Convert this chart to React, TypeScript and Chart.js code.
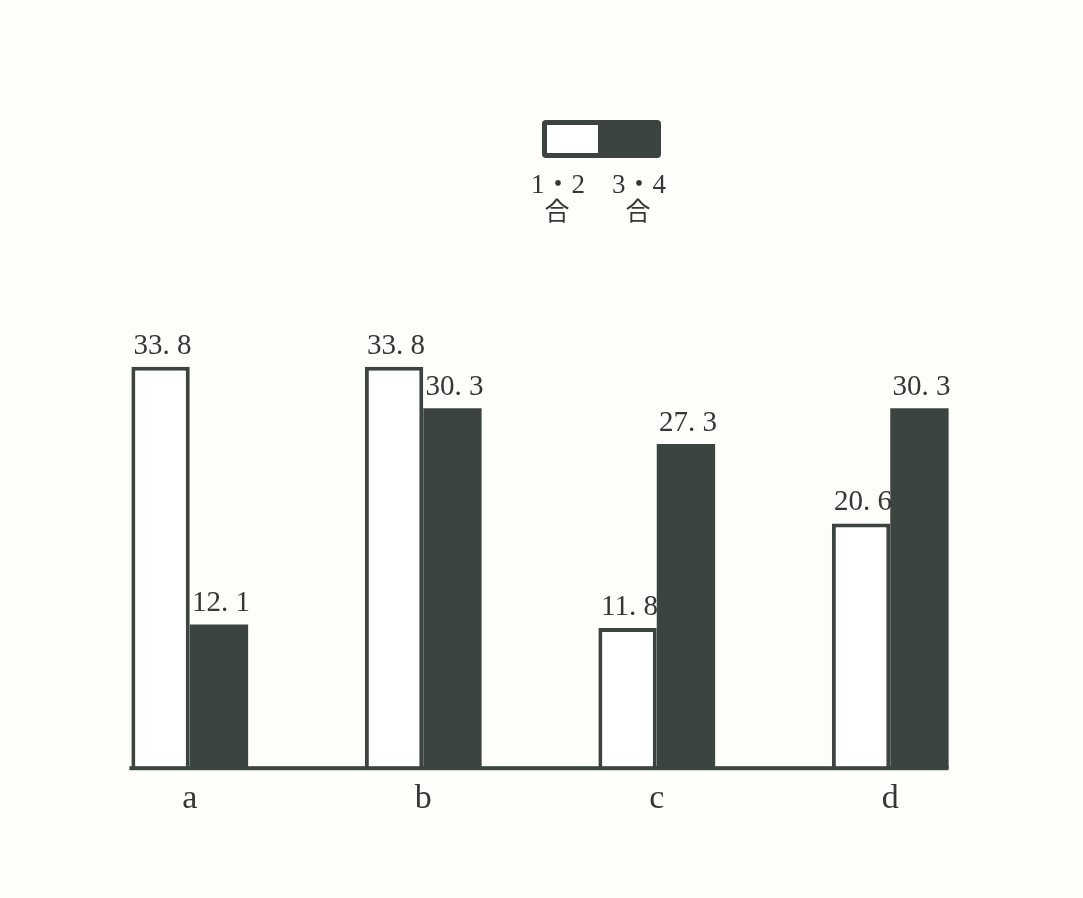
import React, { useEffect, useRef } from "react";
import { Chart, registerables } from "chart.js";

Chart.register(...registerables);

const categories = ["a", "b", "c", "d"];
const series12 = [33.8, 33.8, 11.8, 20.6];
const series34 = [12.1, 30.3, 27.3, 30.3];
const seriesNames = [["1・2", "合"], ["3・4", "合"]];

const DARK = "#3c4441";
const BG = "#fdfdfa";
const FONT = "'Liberation Serif', 'DejaVu Serif', 'Noto Sans CJK JP', serif";

const fmt = (v: number) => {
  const s = v.toFixed(1).split(".");
  return `${s[0]}. ${s[1]}`;
};

const extrasPlugin = {
  id: "extras",
  beforeDraw(chart: any) {
    const ctx = chart.ctx;
    ctx.save();
    ctx.fillStyle = BG;
    ctx.fillRect(0, 0, chart.width, chart.height);
    ctx.restore();
  },
  afterDatasetsDraw(chart: any) {
    const ctx = chart.ctx;
    const y0 = chart.scales.y.getPixelForValue(0);
    const m0 = chart.getDatasetMeta(0);
    const m1 = chart.getDatasetMeta(chart.data.datasets.length - 1);
    const first = m0.data[0];
    const last = m1.data[m1.data.length - 1];
    ctx.save();
    // baseline
    ctx.fillStyle = DARK;
    const x1 = first.x - first.width / 2 - 2;
    const x2 = last.x + last.width / 2;
    ctx.fillRect(x1, y0 - 2, x2 - x1, 4);
    // value labels
    ctx.font = `29px ${FONT}`;
    ctx.textAlign = "center";
    ctx.textBaseline = "alphabetic";
    chart.data.datasets.forEach((ds: any, di: number) => {
      const meta = chart.getDatasetMeta(di);
      meta.data.forEach((el: any, i: number) => {
        ctx.fillStyle = "#333836";
        ctx.fillText(fmt(ds.data[i]), el.x + 2, el.y - 13);
      });
    });
    // legend
    const lx = 542, ly = 120, lw = 119, lh = 38;
    ctx.fillStyle = DARK;
    ctx.beginPath();
    ctx.roundRect(lx, ly, lw, lh, 4);
    ctx.fill();
    ctx.fillStyle = "#ffffff";
    ctx.fillRect(lx + 5, ly + 5, 51, lh - 10);
    ctx.fillStyle = "#333836";
    const cx = [558, 639];
    seriesNames.forEach((nm, i) => {
      ctx.font = `27px ${FONT}`;
      ctx.fillText(nm[0], cx[i], 193);
      ctx.font = `25px 'Noto Sans CJK JP', sans-serif`;
      ctx.fillText(nm[1], cx[i] - 1, 220);
    });
    ctx.restore();
  },
};

export default function App() {
  const ref = useRef<HTMLCanvasElement>(null);
  useEffect(() => {
    document.body.style.margin = "0";
    document.body.style.background = BG;
    const chart = new Chart(ref.current!, {
      type: "bar",
      data: {
        labels: categories,
        datasets: [
          {
            label: seriesNames[0].join(""),
            data: series12,
            backgroundColor: "#ffffff",
            borderColor: DARK,
            borderWidth: { left: 4, top: 4, right: 4, bottom: 0 },
            borderSkipped: "bottom",
          },
          {
            label: seriesNames[1].join(""),
            data: series34,
            backgroundColor: DARK,
            borderWidth: 0,
          },
        ],
      },
      options: {
        animation: false,
        responsive: false,
        events: [],
        layout: { padding: { left: 73, right: 76, top: 293, bottom: 69 } },
        plugins: { legend: { display: false }, tooltip: { enabled: false } },
        datasets: { bar: { categoryPercentage: 0.5, barPercentage: 1.0 } },
        scales: {
          x: {
            grid: { display: false, drawTicks: false },
            border: { display: false },
            ticks: { color: "#333836", font: { size: 34, family: FONT }, padding: 10 },
          },
          y: { display: false, min: 0, max: 40 },
        },
      },
      plugins: [extrasPlugin],
    });
    return () => chart.destroy();
  }, []);
  return <canvas ref={ref} width={1083} height={898} style={{ display: "block" }} />;
}
